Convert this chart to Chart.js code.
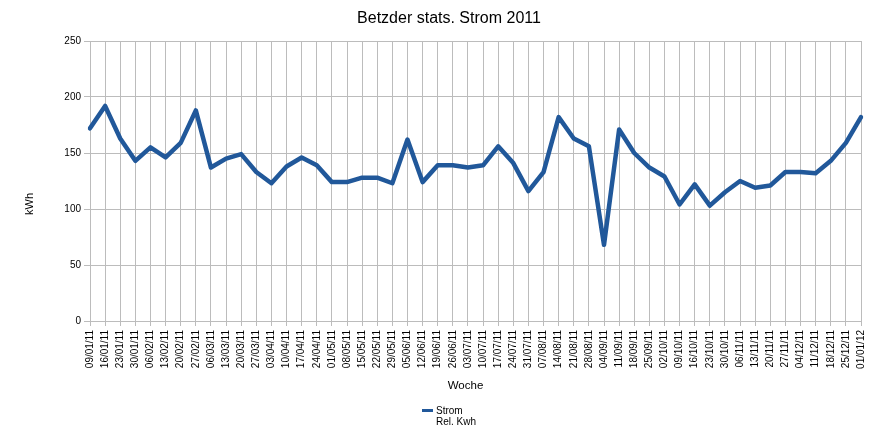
<!DOCTYPE html>
<html>
<head>
<meta charset="utf-8">
<script src="https://cdn.jsdelivr.net/npm/chart.js@4.4.1/dist/chart.umd.min.js"></script>
<style>
  html, body { margin: 0; padding: 0; background: #fff; }
  #wrap { width: 895px; height: 440px; position: relative; }
</style>
</head>
<body>
<div id="wrap"><canvas id="chart"></canvas></div>
<script>
// weekly labels (Woche)
var weeks = ['09/01/11','16/01/11','23/01/11','30/01/11','06/02/11','13/02/11','20/02/11','27/02/11',
  '06/03/11','13/03/11','20/03/11','27/03/11','03/04/11','10/04/11','17/04/11','24/04/11',
  '01/05/11','08/05/11','15/05/11','22/05/11','29/05/11','05/06/11','12/06/11','19/06/11',
  '26/06/11','03/07/11','10/07/11','17/07/11','24/07/11','31/07/11','07/08/11','14/08/11',
  '21/08/11','28/08/11','04/09/11','11/09/11','18/09/11','25/09/11','02/10/11','09/10/11',
  '16/10/11','23/10/11','30/10/11','06/11/11','13/11/11','20/11/11','27/11/11','04/12/11',
  '11/12/11','18/12/11','25/12/11','01/01/12'];

// kWh per week
var strom = [172,192,163,143,155,146,159,188,137,145,149,133,123,138,146,139,
  124,124,128,128,123,162,124,139,139,137,139,156,141,116,133,182,
  163,156,68,171,150,137,129,104,122,103,115,125,119,121,133,133,
  132,143,159,182];

var yTicks = [0, 50, 100, 150, 200, 250];

var lineColor = '#21589a';
var gridColor = '#bcbcbc';
var fontFam = '"Liberation Sans", Arial, Helvetica, sans-serif';

// texts that sit outside the normal Chart.js boxes
var extraText = {
  id: 'extraText',
  afterDraw: function(chart) {
    var ctx = chart.ctx;
    ctx.save();
    ctx.fillStyle = '#000';
    // y axis title
    ctx.font = '11px ' + fontFam;
    ctx.textAlign = 'center';
    ctx.textBaseline = 'middle';
    ctx.translate(30, 204);
    ctx.rotate(-Math.PI / 2);
    ctx.fillText('kWh', 0, 0);
    ctx.setTransform(1, 0, 0, 1, 0, 0);
    // x axis title
    ctx.font = '11.5px ' + fontFam;
    ctx.fillText('Woche', 465.5, 386);
    // legend
    ctx.strokeStyle = lineColor;
    ctx.lineWidth = 3;
    ctx.beginPath();
    ctx.moveTo(422, 410.5);
    ctx.lineTo(433, 410.5);
    ctx.stroke();
    ctx.font = '10px ' + fontFam;
    ctx.textAlign = 'left';
    ctx.fillText(chart.data.datasets[0].label, 436, 411.5);
    ctx.fillText('Rel. Kwh', 436, 422);
    ctx.restore();
  }
};

var ctx = document.getElementById('chart');
new Chart(ctx, {
  type: 'line',
  data: {
    labels: weeks,
    datasets: [{
      label: 'Strom',
      data: strom,
      borderColor: lineColor,
      backgroundColor: lineColor,
      borderWidth: 4.5,
      pointRadius: 0,
      tension: 0,
      borderJoinStyle: 'round',
      borderCapStyle: 'round'
    }]
  },
  options: {
    responsive: true,
    maintainAspectRatio: false,
    animation: false,
    layout: { padding: { left: 37, right: 34, top: 0, bottom: 0 } },
    plugins: {
      legend: { display: false },
      tooltip: { enabled: false },
      title: {
        display: true,
        text: 'Betzder stats. Strom 2011',
        color: '#000',
        font: { family: fontFam, size: 16, weight: 'normal' },
        padding: { top: 8.5, bottom: 13.3 }
      }
    },
    scales: {
      x: {
        offset: false,
        afterFit: function(scale) { scale.height = 119; },
        grid: { color: gridColor, tickLength: 5, lineWidth: 1 },
        border: { color: gridColor },
        ticks: {
          autoSkip: false,
          minRotation: 90,
          maxRotation: 90,
          padding: 4,
          color: '#000',
          font: { family: fontFam, size: 10 }
        }
      },
      y: {
        min: 0,
        max: 250,
        afterFit: function(scale) { scale.width = 53; },
        afterBuildTicks: function(scale) {
          scale.ticks = yTicks.map(function(v) { return { value: v }; });
        },
        grid: { color: gridColor, tickLength: 6, lineWidth: 1 },
        border: { color: gridColor },
        ticks: {
          padding: 3,
          color: '#000',
          font: { family: fontFam, size: 10 }
        }
      }
    }
  },
  plugins: [extraText]
});
</script>
</body>
</html>
